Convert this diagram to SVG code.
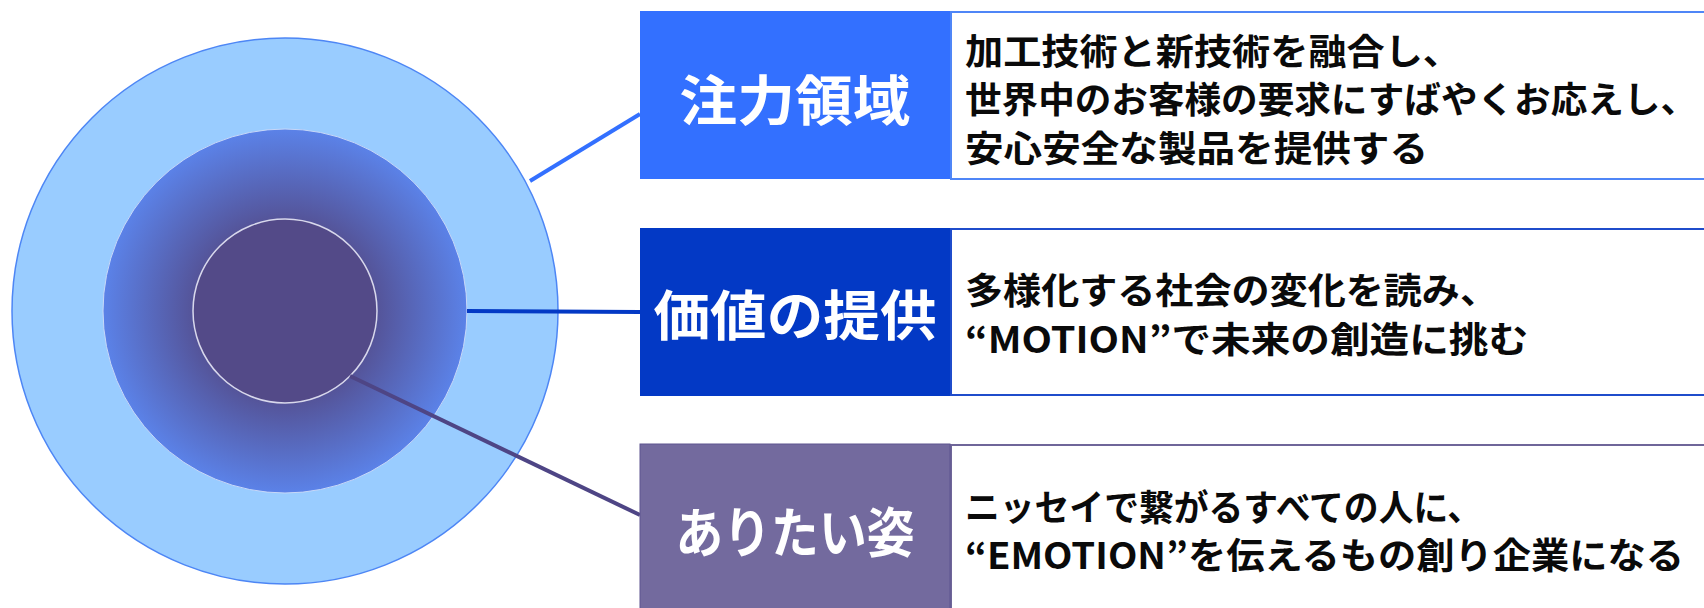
<svg xmlns="http://www.w3.org/2000/svg" width="1704" height="608" viewBox="0 0 1704 608">
  <defs>
    <radialGradient id="midGrad" cx="0.5" cy="0.5" r="0.5">
      <stop offset="0" stop-color="#534A88"/>
      <stop offset="0.4" stop-color="#534A88"/>
      <stop offset="1" stop-color="#5B82E8"/>
    </radialGradient>
    <style>
      .title { font-family: "Noto Sans CJK JP", "Noto Sans", sans-serif; font-weight: bold; font-size: 54px; fill: #FFFFFF; text-anchor: middle; dominant-baseline: central; }
      .body { font-family: "Noto Sans CJK JP", "Noto Sans", sans-serif; font-weight: bold; font-size: 36px; fill: #0A0A0A; dominant-baseline: central; }
      .conn { fill: none; stroke-width: 4; stroke-linecap: butt; }
    </style>
  </defs>
  <rect width="1704" height="608" fill="#FFFFFF"/>

  <g id="node-core">
    <circle cx="285" cy="311" r="273" fill="#99CCFF" stroke="#4D86F5" stroke-width="1.5"/>
    <circle cx="285" cy="311" r="182" fill="url(#midGrad)" stroke="#C8D8F8" stroke-width="1"/>
    <circle cx="285" cy="311" r="92" fill="#534A88" stroke="#D8D8EC" stroke-width="1.5"/>
  </g>

  <g id="connectors">
    <line class="conn" x1="530" y1="181" x2="640" y2="114" stroke="#3370FF"/>
    <line class="conn" x1="467" y1="311" x2="640" y2="312" stroke="#0339C5"/>
    <line class="conn" x1="350" y1="376" x2="640" y2="515" stroke="#4E4585"/>
  </g>

  <g id="node-focus">
    <rect x="951" y="12" width="770" height="167" fill="#FFFFFF" stroke="#4F86F7" stroke-width="2"/>
    <rect x="640" y="11" width="310" height="168" fill="#3370FF"/>
    <text class="title" x="795" y="97" textLength="231" lengthAdjust="spacingAndGlyphs">注力領域</text>
    <text class="body" x="965" y="48.5" textLength="496" lengthAdjust="spacingAndGlyphs">加工技術と新技術を融合し、</text>
    <text class="body" x="965" y="97" textLength="732" lengthAdjust="spacingAndGlyphs">世界中のお客様の要求にすばやくお応えし、</text>
    <text class="body" x="965" y="145.5" textLength="463" lengthAdjust="spacingAndGlyphs">安心安全な製品を提供する</text>
  </g>

  <g id="node-value">
    <rect x="951" y="229" width="770" height="166" fill="#FFFFFF" stroke="#1F4CCB" stroke-width="2"/>
    <rect x="640" y="228" width="310" height="168" fill="#0339C5"/>
    <text class="title" x="795" y="312" textLength="283" lengthAdjust="spacingAndGlyphs">価値の提供</text>
    <text class="body" x="965" y="288" textLength="533" lengthAdjust="spacingAndGlyphs">多様化する社会の変化を読み、</text>
    <text class="body" x="965" y="337" textLength="563" lengthAdjust="spacingAndGlyphs">“MOTION”で未来の創造に挑む</text>
  </g>

  <g id="node-ideal">
    <rect x="951" y="445" width="770" height="180" fill="#FFFFFF" stroke="#6F6699" stroke-width="2"/>
    <rect x="640" y="444" width="310" height="180" fill="#736A9E" stroke="#5E5590" stroke-width="1"/>
    <text class="title" x="795" y="529" textLength="239" lengthAdjust="spacingAndGlyphs">ありたい姿</text>
    <text class="body" x="965" y="505" textLength="517" lengthAdjust="spacingAndGlyphs">ニッセイで繋がるすべての人に、</text>
    <text class="body" x="965" y="553" textLength="719" lengthAdjust="spacingAndGlyphs">“EMOTION”を伝えるもの創り企業になる</text>
  </g>
</svg>
